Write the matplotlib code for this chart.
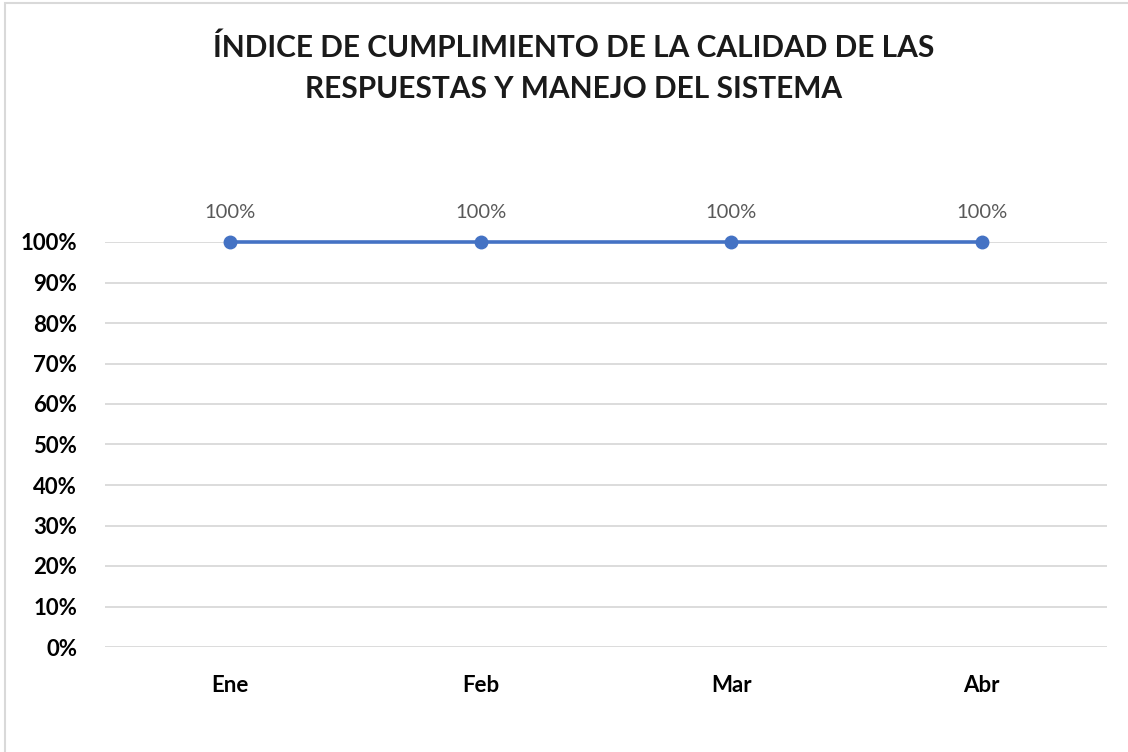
import matplotlib.pyplot as plt
import matplotlib.patches as patches
from matplotlib.ticker import FuncFormatter, MultipleLocator

months = ['Ene', 'Feb', 'Mar', 'Abr']
indice = [1.0, 1.0, 1.0, 1.0]
data_labels = ['100%', '100%', '100%', '100%']

plt.rcParams['font.family'] = ['Lato', 'DejaVu Sans']

fig = plt.figure(figsize=(11.28, 7.52), dpi=100)
# plot area in figure pixels: x 105..1107, y 242 (100%)..647 (0%)
W, H = 1128, 752
ax = fig.add_axes([105 / W, (H - 647) / H, (1107 - 105) / W, (647 - 242) / H])

x = list(range(len(months)))
ax.plot(x, indice, color='#4472C4', linewidth=2.6, marker='o', markersize=9,
        zorder=3, clip_on=False)
for xi, yi, lab in zip(x, indice, data_labels):
    ax.annotate(lab, (xi, yi), xytext=(0, 15), textcoords='offset points',
                ha='center', va='bottom', fontsize=14.5, color='#595959')

ax.set_xlim(-0.5, len(months) - 0.5)
ax.set_ylim(0, 1.0)
ax.yaxis.set_major_locator(MultipleLocator(0.1))
ax.yaxis.set_major_formatter(FuncFormatter(lambda v, p: f'{v * 100:.0f}%'))
ax.set_xticks(x)
ax.set_xticklabels(months)
ax.grid(axis='y', color='#D9D9D9', linewidth=1.3, zorder=0)
for s in ax.spines.values():
    s.set_visible(False)
ax.tick_params(length=0, labelsize=16, colors='black')
ax.tick_params(axis='y', pad=20)
ax.tick_params(axis='x', pad=20)
for t in ax.get_xticklabels() + ax.get_yticklabels():
    t.set_fontweight('bold')

fig.text(574 / W, 1 - 68 / H,
         'ÍNDICE DE CUMPLIMIENTO DE LA CALIDAD DE LAS\nRESPUESTAS Y MANEJO DEL SISTEMA',
         ha='center', va='center', fontsize=21.5, fontweight='bold',
         color='#1a1a1a', linespacing=1.55)

# chart frame (only left and top edges visible in the crop)
fig.add_artist(patches.Rectangle((5 / W, -0.1), 1.2, 1.1 - 3 / H + 0.0,
                                 transform=fig.transFigure, fill=False,
                                 edgecolor='#D9D9D9', linewidth=1.5))

fig.savefig('out.png', dpi=100)
